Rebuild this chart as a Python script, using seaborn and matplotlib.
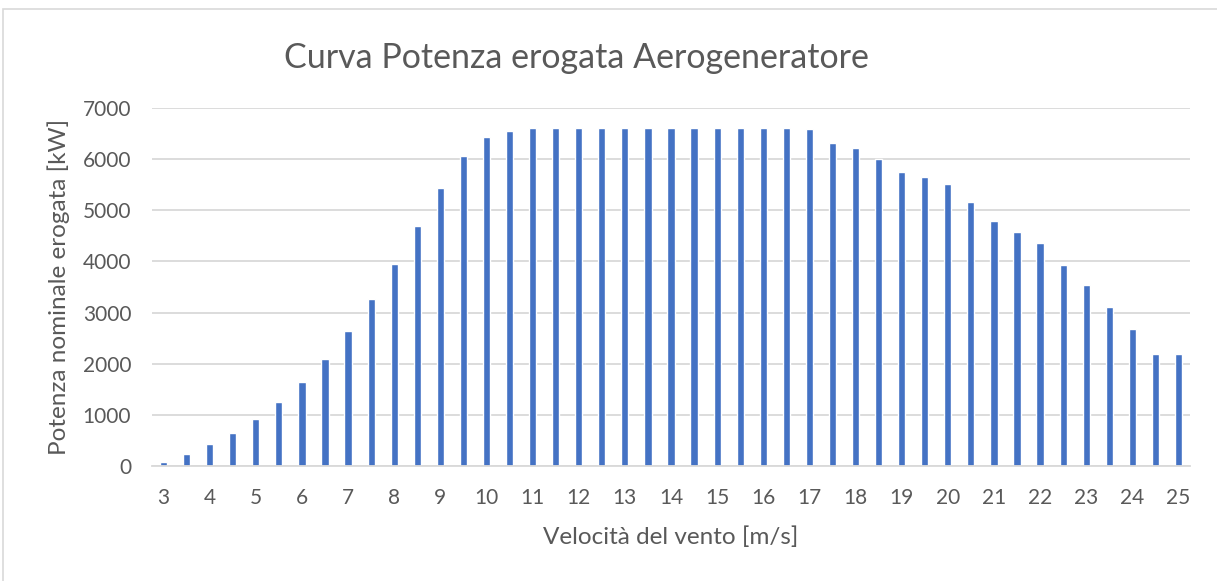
import numpy as np
import pandas as pd
import matplotlib.pyplot as plt
import seaborn as sns
from matplotlib.patches import Rectangle

sns.set_style('white')
plt.rcParams['font.family'] = ['Lato', 'DejaVu Sans']

# wind speed [m/s] and delivered power [kW]
speed = [3, 3.5, 4, 4.5, 5, 5.5, 6, 6.5, 7, 7.5, 8, 8.5, 9, 9.5, 10, 10.5,
         11, 11.5, 12, 12.5, 13, 13.5, 14, 14.5, 15, 15.5, 16, 16.5, 17, 17.5,
         18, 18.5, 19, 19.5, 20, 20.5, 21, 21.5, 22, 22.5, 23, 23.5, 24, 24.5, 25]
power = [85, 235, 430, 650, 910, 1245, 1635, 2095, 2640, 3260, 3950, 4700, 5440,
         6060, 6430, 6560, 6600, 6600, 6600, 6600, 6600, 6600, 6600, 6600, 6600,
         6600, 6600, 6600, 6590, 6310, 6220, 6005, 5750, 5645, 5505, 5155, 4790,
         4580, 4355, 3930, 3545, 3105, 2675, 2195, 2195]
tick_labels = [str(v) for v in range(3, 26)]

title = 'Curva Potenza erogata Aerogeneratore'
xlabel = 'Velocità del vento [m/s]'
ylabel = 'Potenza nominale erogata [kW]'

df = pd.DataFrame({'speed': [f'{s:g}' for s in speed], 'power': power})

txt = '#595959'
fig = plt.figure(figsize=(12.17, 5.81), dpi=100)
ax = fig.add_axes([152/1217, 115/581, 1038/1217, 358/581])

sns.barplot(data=df, x='speed', y='power', order=df['speed'], color='#4472C4',
            saturation=1, width=0.31, ax=ax)

ax.set_xlim(-0.5, len(speed) - 0.5)
ax.set_ylim(0, 7000)
ax.set_yticks(range(0, 7001, 1000))
ax.set_xticks(range(0, len(speed), 2))
ax.set_xticklabels(tick_labels)
ax.tick_params(axis='both', length=0, labelsize=15, colors=txt)
ax.tick_params(axis='x', pad=16)
ax.tick_params(axis='y', pad=15)
ax.yaxis.grid(True, color='#D9D9D9', linewidth=1.3)
ax.set_axisbelow(True)
for s in ['top', 'right', 'left']:
    ax.spines[s].set_visible(False)
ax.spines['bottom'].set_color('#D9D9D9')
ax.spines['bottom'].set_linewidth(1.3)

ax.set_xlabel(xlabel, fontsize=17.5, color=txt, labelpad=13)
ax.set_ylabel(ylabel, fontsize=17.5, color=txt, labelpad=9)
fig.text(0.474, 0.900, title, fontsize=24.5, color=txt, ha='center', va='center')

fig.patches.append(Rectangle((3/1217, -0.01), 1.0, (581-9)/581 + 0.01,
                             transform=fig.transFigure, fill=False,
                             edgecolor='#D9D9D9', linewidth=1.2))

plt.savefig('out.png', dpi=100)
